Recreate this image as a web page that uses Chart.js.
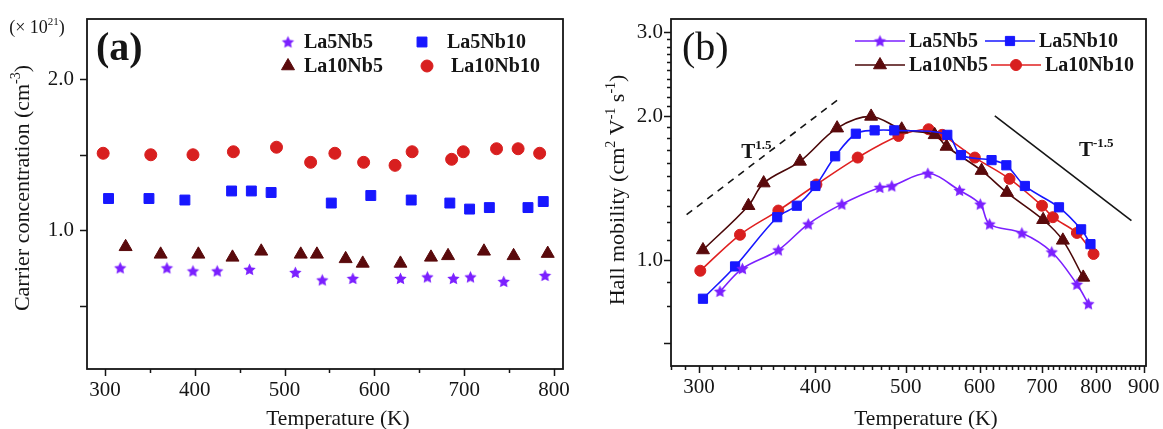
<!DOCTYPE html>
<html>
<head>
<meta charset="utf-8">
<title>Carrier concentration and Hall mobility</title>
<script src="https://cdn.jsdelivr.net/npm/chart.js@4.4.1/dist/chart.umd.min.js"></script>
<style>
html, body { margin: 0; padding: 0; background: #fff; }
#wrap { position: relative; width: 1163px; height: 429px; overflow: hidden; }
canvas { position: absolute; top: 0; }
#chartA { left: 0; }
#chartB { left: 582px; }
</style>
</head>
<body>
<div id="wrap">
  <canvas id="chartA" width="582" height="429"></canvas>
  <canvas id="chartB" width="581" height="429"></canvas>
</div>
<script>
// ---- (a) carrier concentration, x 10^21 cm^-3 ----
let concStarT = [317, 369, 398, 425, 461, 512, 542, 576, 629, 659, 688, 707, 744, 790]
let concStar = [0.75, 0.75, 0.73, 0.73, 0.74, 0.72, 0.67, 0.68, 0.68, 0.69, 0.68, 0.69, 0.66, 0.70]
let concSquareT = [304, 349, 389, 441, 463, 485, 552, 596, 641, 684, 706, 728, 771, 788]
let concSquare = [1.21, 1.21, 1.20, 1.26, 1.26, 1.25, 1.18, 1.23, 1.20, 1.18, 1.14, 1.15, 1.15, 1.19]
let concTriT = [323, 362, 404, 442, 474, 518, 536, 568, 587, 629, 663, 682, 722, 755, 793]
let concTri = [0.89, 0.84, 0.84, 0.82, 0.86, 0.84, 0.84, 0.81, 0.78, 0.78, 0.82, 0.83, 0.86, 0.83, 0.845]
let concCircT = [298, 351, 398, 443, 491, 529, 556, 588, 623, 642, 686, 699, 736, 760, 784]
let concCirc = [1.51, 1.50, 1.50, 1.52, 1.55, 1.45, 1.51, 1.45, 1.43, 1.52, 1.47, 1.52, 1.54, 1.54, 1.51]

let tempTicksA = [300, 400, 500, 600, 700, 800]
let tempMinorA = [350, 450, 550, 650, 750]
let concTicks = [0.5, 1.0, 1.5, 2.0]
let concLabels = [1.0, 2.0]

// ---- (b) Hall mobility, cm^2 V^-1 s^-1 ----
let mobStarT = [316, 334, 365, 393, 427, 469, 483, 528, 571, 601, 615, 666, 717, 763, 785]
let mobStar = [0.86, 0.96, 1.05, 1.19, 1.31, 1.42, 1.43, 1.52, 1.40, 1.31, 1.19, 1.14, 1.04, 0.89, 0.81]
let mobSquareT = [303, 328, 364, 382, 400, 420, 442, 463, 486, 554, 573, 618, 641, 671, 730, 771, 789]
let mobSquare = [0.83, 0.97, 1.23, 1.30, 1.43, 1.65, 1.84, 1.87, 1.87, 1.83, 1.66, 1.62, 1.58, 1.43, 1.29, 1.16, 1.08]
let mobTriT = [303, 339, 352, 385, 422, 459, 495, 537, 553, 603, 642, 702, 737, 775]
let mobTri = [1.05, 1.30, 1.45, 1.61, 1.89, 2.00, 1.88, 1.83, 1.73, 1.54, 1.385, 1.215, 1.10, 0.92]
let mobCircT = [301, 332, 365, 401, 444, 491, 529, 547, 593, 646, 700, 719, 763, 795]
let mobCirc = [0.95, 1.13, 1.27, 1.44, 1.64, 1.82, 1.88, 1.83, 1.64, 1.48, 1.30, 1.23, 1.14, 1.03]

// power-law guides, T^1.5 and T^-1.5
let guideUpT = [291, 423]
let guideUp = [1.245, 2.17]
let guideDownT = [623, 873]
let guideDown = [2.005, 1.21]

let tempTicksB = [300, 400, 500, 600, 700, 800, 900]
let tempMinorB = []
for (let t = 280; t <= 900; t += 10) if (t % 100) tempMinorB.push(t)
let mobTicks = [0.67, 1, 2, 3]
let mobLabels = [1, 2, 3]
let mobMinor = [0.8, 0.9, 1.1, 1.2, 1.3, 1.4, 1.5, 1.6, 1.7, 1.8, 1.9, 2.1, 2.2, 2.3, 2.4, 2.5, 2.6, 2.7, 2.8, 2.9]

const serif = "'Liberation Serif', 'Times New Roman', serif"
const ink = '#151515'
const violet = '#7b20ff'
const blue = '#1717ff'
const maroon = '#5a0a0c'
const red = '#d81f1f'

Chart.defaults.font.family = serif
Chart.defaults.color = ink

let pairs = (xs, ys) => xs.map((x, i) => ({ x: x, y: ys[i] }))

// filled five point star, used as an image point style
let starMarker = (color, r) => {
    let c = document.createElement('canvas')
    let s = Math.ceil(r * 2 + 2)
    c.width = s
    c.height = s
    let g = c.getContext('2d')
    g.translate(s / 2, s / 2 + r * 0.08)
    g.beginPath()
    for (let i = 0; i < 10; i++) {
        let rad = i % 2 ? r * 0.48 : r
        let ang = -Math.PI / 2 + i * Math.PI / 5
        g.lineTo(rad * Math.cos(ang), rad * Math.sin(ang))
    }
    g.closePath()
    g.fillStyle = color
    g.fill()
    return c
}

// text with superscripts: parts = [[text, isSup], ...]
let drawRich = (ctx, t) => {
    let weight = t.bold ? 'bold ' : ''
    let big = weight + t.size + 'px ' + serif
    let small = weight + Math.round(t.size * 0.62) + 'px ' + serif
    let total = 0
    t.parts.forEach(p => {
        ctx.font = p[1] ? small : big
        total += ctx.measureText(p[0]).width
    })
    ctx.save()
    ctx.translate(t.x, t.y)
    if (t.rotate) ctx.rotate(-Math.PI / 2)
    ctx.textAlign = 'left'
    ctx.textBaseline = 'alphabetic'
    ctx.fillStyle = ink
    let x = t.align === 'left' ? 0 : -total / 2
    let base = t.size * 0.33
    t.parts.forEach(p => {
        ctx.font = p[1] ? small : big
        ctx.fillText(p[0], x, base - (p[1] ? t.size * 0.42 : 0))
        x += ctx.measureText(p[0]).width
    })
    ctx.restore()
}

// keep the plot box where the layout padding puts it
let fixY = w => s => { s.width = w; s.paddingTop = 0; s.paddingBottom = 0 }
let fixX = h => s => { s.height = h; s.paddingLeft = 0; s.paddingRight = 0 }

// frame, tick marks, legend and free labels
const decor = {
    id: 'decor',
    afterDraw(chart, args, opts) {
        let ctx = chart.ctx
        let a = chart.chartArea
        let xs = chart.scales.x
        let ys = chart.scales.y
        ctx.save()
        ctx.strokeStyle = ink
        ctx.lineWidth = 1.8
        ctx.strokeRect(a.left, a.top, a.right - a.left, a.bottom - a.top)
        ctx.lineWidth = 1.5
        ctx.beginPath()
        let xTick = (v, len) => {
            let px = Math.round(xs.getPixelForValue(v)) + 0.5
            ctx.moveTo(px, a.bottom)
            ctx.lineTo(px, a.bottom + len)
        }
        let yTick = (v, len) => {
            let py = Math.round(ys.getPixelForValue(v)) + 0.5
            ctx.moveTo(a.left, py)
            ctx.lineTo(a.left - len, py)
        }
        opts.xMajor.forEach(v => xTick(v, 7))
        opts.xMinor.forEach(v => xTick(v, 4))
        opts.yMajor.forEach(v => yTick(v, 7))
        opts.yMinor.forEach(v => yTick(v, 4))
        ctx.stroke()

        // legend
        opts.legend.forEach(it => {
            let ds = chart.data.datasets[it.ds]
            if (it.line) {
                ctx.strokeStyle = ds.borderColor
                ctx.lineWidth = ds.borderWidth
                ctx.beginPath()
                ctx.moveTo(it.x - it.line, it.y)
                ctx.lineTo(it.x + it.line, it.y)
                ctx.stroke()
            }
            ctx.fillStyle = ds.pointBackgroundColor
            ctx.strokeStyle = ds.pointBorderColor
            ctx.lineWidth = 1
            Chart.helpers.drawPoint(ctx, { pointStyle: ds.pointStyle, radius: ds.pointRadius, rotation: 0, borderWidth: 1 }, it.x, it.y)
            ctx.fillStyle = ink
            ctx.font = 'bold ' + opts.legendSize + 'px ' + serif
            ctx.textAlign = 'left'
            ctx.textBaseline = 'middle'
            ctx.fillText(ds.label, it.tx, it.y + 1)
        })

        opts.texts.forEach(t => {
            let spec = Object.assign({}, t)
            if (t.atX !== undefined) {
                spec.x = xs.getPixelForValue(t.atX)
                spec.y = ys.getPixelForValue(t.atY)
            }
            drawRich(ctx, spec)
        })
        ctx.restore()
    }
}

let tickFont = { size: 21, family: serif }

let scatterSet = (label, xs, ys, style, radius, color) => ({
    label: label,
    data: pairs(xs, ys),
    showLine: false,
    pointStyle: style,
    pointRadius: radius,
    pointBackgroundColor: color,
    pointBorderColor: color,
    pointBorderWidth: 1,
    borderColor: color
})

new Chart(document.getElementById('chartA'), {
    type: 'scatter',
    data: {
        datasets: [
            scatterSet('La5Nb5', concStarT, concStar, starMarker(violet, 6.5), 6.5, violet),
            scatterSet('La5Nb10', concSquareT, concSquare, 'rect', 7, blue),
            scatterSet('La10Nb5', concTriT, concTri, 'triangle', 7.5, maroon),
            scatterSet('La10Nb10', concCircT, concCirc, 'circle', 6, red)
        ]
    },
    options: {
        responsive: false,
        animation: false,
        events: [],
        layout: { autoPadding: false, padding: { left: 0, right: 19, top: 19, bottom: 0 } },
        plugins: {
            legend: { display: false },
            tooltip: { enabled: false },
            decor: {
                xMajor: tempTicksA, xMinor: tempMinorA, yMajor: concTicks, yMinor: [],
                legendSize: 20,
                legend: [
                    { ds: 0, x: 288, y: 42, tx: 304 },
                    { ds: 1, x: 422, y: 42, tx: 447 },
                    { ds: 2, x: 288, y: 66, tx: 304 },
                    { ds: 3, x: 427, y: 66, tx: 451 }
                ],
                texts: [
                    { parts: [['(\u00d7 10'], ['21', true], [')']], x: 37, y: 27, size: 18 },
                    { parts: [['(a)']], x: 96, y: 47, size: 40, bold: true, align: 'left' },
                    { parts: [['Carrier concentration (cm'], ['-3', true], [')']], x: 22, y: 188, size: 22, rotate: true },
                    { parts: [['Temperature (K)']], x: 338, y: 418, size: 21.5 }
                ]
            }
        },
        scales: {
            x: {
                type: 'linear', min: 280, max: 810,
                afterFit: fixX(60),
                afterBuildTicks: s => { s.ticks = tempTicksA.map(v => ({ value: v })) },
                grid: { display: false, drawTicks: false },
                border: { display: false },
                ticks: { padding: 9, font: tickFont, color: ink, maxRotation: 0, autoSkip: false, callback: v => String(v) }
            },
            y: {
                type: 'linear', min: 0.08, max: 2.4,
                afterFit: fixY(87),
                afterBuildTicks: s => { s.ticks = concTicks.map(v => ({ value: v })) },
                grid: { display: false, drawTicks: false },
                border: { display: false },
                ticks: { padding: 13, font: tickFont, color: ink, autoSkip: false, callback: v => concLabels.includes(v) ? v.toFixed(1) : '' }
            }
        }
    },
    plugins: [decor]
})

let lineSet = (label, xs, ys, style, radius, color, lineColor) => ({
    label: label,
    data: pairs(xs, ys),
    showLine: true,
    tension: 0.35,
    borderColor: lineColor,
    borderWidth: 1.6,
    pointStyle: style,
    pointRadius: radius,
    pointBackgroundColor: color,
    pointBorderColor: color,
    pointBorderWidth: 1
})

let guideSet = (xs, ys, dash) => ({
    label: '',
    data: pairs(xs, ys),
    showLine: true,
    tension: 0,
    borderColor: ink,
    borderWidth: 1.6,
    borderDash: dash,
    pointRadius: 0
})

new Chart(document.getElementById('chartB'), {
    type: 'scatter',
    data: {
        datasets: [
            lineSet('La5Nb5', mobStarT, mobStar, starMarker(violet, 6.5), 6.5, violet, violet),
            lineSet('La5Nb10', mobSquareT, mobSquare, 'rect', 6.5, blue, blue),
            lineSet('La10Nb5', mobTriT, mobTri, 'triangle', 7.5, maroon, '#4a0708'),
            lineSet('La10Nb10', mobCircT, mobCirc, 'circle', 5.5, red, '#e02020'),
            guideSet(guideUpT, guideUp, [7, 6]),
            guideSet(guideDownT, guideDown, [])
        ]
    },
    options: {
        responsive: false,
        animation: false,
        events: [],
        layout: { autoPadding: false, padding: { left: 0, right: 17, top: 19, bottom: 0 } },
        plugins: {
            legend: { display: false },
            tooltip: { enabled: false },
            decor: {
                xMajor: tempTicksB, xMinor: tempMinorB, yMajor: mobTicks, yMinor: mobMinor,
                legendSize: 20,
                legend: [
                    { ds: 0, x: 298, y: 41, tx: 327, line: 25 },
                    { ds: 1, x: 428, y: 41, tx: 457, line: 25 },
                    { ds: 2, x: 298, y: 65, tx: 327, line: 25 },
                    { ds: 3, x: 434, y: 65, tx: 463, line: 25 }
                ],
                texts: [
                    { parts: [['(b)']], x: 100, y: 47, size: 40, align: 'left' },
                    { parts: [['Hall mobility (cm'], ['2', true], [' V'], ['-1', true], [' s'], ['-1', true], [')']], x: 35, y: 190, size: 22, rotate: true },
                    { parts: [['Temperature (K)']], x: 344, y: 418, size: 21.5 },
                    { parts: [['T'], ['1.5', true]], atX: 333, atY: 1.69, size: 21, bold: true, align: 'left' },
                    { parts: [['T'], ['-1.5', true]], atX: 767, atY: 1.71, size: 21, bold: true, align: 'left' }
                ]
            }
        },
        scales: {
            x: {
                type: 'logarithmic', min: 280, max: 905,
                afterFit: fixX(63),
                afterBuildTicks: s => { s.ticks = tempTicksB.map(v => ({ value: v })) },
                grid: { display: false, drawTicks: false },
                border: { display: false },
                ticks: { padding: 9, font: tickFont, color: ink, maxRotation: 0, autoSkip: false, callback: v => String(v) }
            },
            y: {
                type: 'logarithmic', min: 0.609, max: 3.2,
                afterFit: fixY(89),
                afterBuildTicks: s => { s.ticks = mobTicks.map(v => ({ value: v })) },
                grid: { display: false, drawTicks: false },
                border: { display: false },
                ticks: { padding: 8, font: tickFont, color: ink, autoSkip: false, callback: v => mobLabels.includes(v) ? v.toFixed(1) : '' }
            }
        }
    },
    plugins: [decor]
})
</script>
</body>
</html>
